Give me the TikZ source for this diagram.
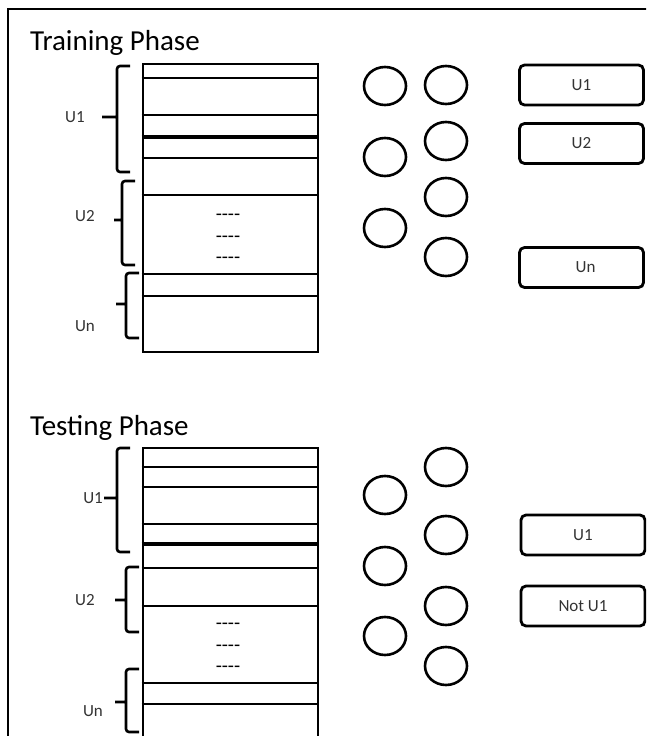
\documentclass[tikz,border=0pt]{standalone}
\usepackage{fontspec}
\setmainfont{Carlito}
\usetikzlibrary{shapes.geometric}

\begin{document}
\begin{tikzpicture}[x=1pt,y=-1pt,
  frame/.style={line width=1.8pt},
  phase/.style={font=\fontsize{29}{31}\selectfont,anchor=base west,inner sep=0pt},
  stack/.style={draw,line width=2.6pt,minimum width=175pt,inner sep=0pt},
  row/.style={line width=2.6pt},
  brace/.style={line width=2.6pt,rounded corners=3pt},
  lbl/.style={font=\fontsize{17}{19}\selectfont,text=black!80,inner sep=1pt},
  gap/.style={font=\fontsize{20}{22}\selectfont,inner sep=0pt},
  neuron/.style={ellipse,draw,line width=2.6pt,minimum width=42pt,minimum height=38pt,inner sep=0pt},
  outbox/.style={draw,line width=2.8pt,rounded corners=5pt,minimum width=124pt,minimum height=40pt,
    font=\fontsize{17}{19}\selectfont,text=black!80}
]
\useasboundingbox (0,0) rectangle (646,736);
\clip (0,0) rectangle (646,736);
\draw[frame] (8,9) rectangle (690,790);

% training phase
\node[phase] (ttrain) at (30,50) {Training Phase};
\node[stack,minimum height=288pt] (train) at (230.5,208) {};
\foreach \y in {78,115,158,195,274,296}
  \draw[row] (train.west |- 0,\y) -- (train.east |- 0,\y);
\draw[row,line width=3.4pt] (train.west |- 0,137) -- (train.east |- 0,137);
\foreach \y [count=\i] in {217,239,260}
  \node[gap] (trgap\i) at (228,\y) {-{}-{}-{}-};

\foreach \top/\bot/\sx/\tip/\tx in {66/172/117/117/102,181/265/122/220/114,273/338/126/304/116}
  \draw[brace] (\sx+13,\top) -- (\sx,\top) -- (\sx,\bot) -- (\sx+13,\bot)
    (\sx,\tip) -- (\tx,\tip);
\node[lbl] (trlu1) at (75,117) {U1};
\node[lbl] (trlu2) at (85,216) {U2};
\node[lbl] (trlun) at (85,326) {Un};

\foreach \y [count=\i] in {86,157,228}
  \node[neuron] (tra\i) at (385,\y) {};
\foreach \y [count=\i] in {85,141,197,257}
  \node[neuron] (trb\i) at (446,\y) {};

\node[outbox] (tru1) at (581.5,85) {U1};
\node[outbox] (tru2) at (581.5,143.5) {U2};
\node[outbox] (trun) at (581.5,267.5) {\hspace{8pt}Un};

% testing phase
\node[phase] (ttest) at (30,435) {Testing Phase};
\node[stack,minimum height=312pt] (test) at (230.5,604) {};
\foreach \y in {467,487,524,568,606,683,704}
  \draw[row] (test.west |- 0,\y) -- (test.east |- 0,\y);
\draw[row,line width=3.4pt] (test.west |- 0,544) -- (test.east |- 0,544);
\foreach \y [count=\i] in {626,648,669}
  \node[gap] (tegap\i) at (228,\y) {-{}-{}-{}-};

\foreach \top/\bot/\sx/\tip/\tx in {448/552/117/498/104,567/632/126/600/115,669/732/126/702/115}
  \draw[brace] (\sx+13,\top) -- (\sx,\top) -- (\sx,\bot) -- (\sx+13,\bot)
    (\sx,\tip) -- (\tx,\tip);
\node[lbl,anchor=east] (telu1) at (104,498) {U1};
\node[lbl] (telu2) at (85,600) {U2};
\node[lbl] (telun) at (93,711) {Un};

\foreach \y [count=\i] in {495,566,636}
  \node[neuron] (tea\i) at (385,\y) {};
\foreach \y [count=\i] in {467,535,606,666}
  \node[neuron] (teb\i) at (446,\y) {};

\node[outbox] (teu1) at (583,535) {U1};
\node[outbox] (tenot) at (583,606) {Not U1};
\end{tikzpicture}
\end{document}
